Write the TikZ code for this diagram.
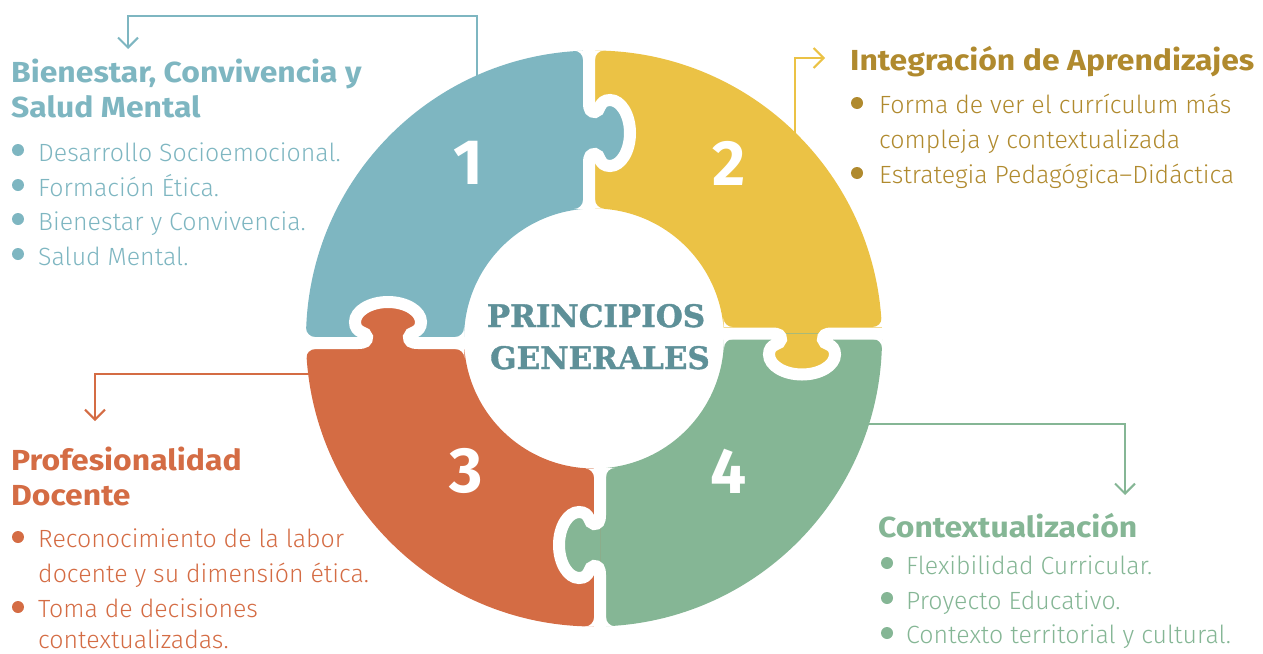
\documentclass[tikz,border=0pt]{standalone}
\usepackage{fontspec}
\setmainfont{Fira Sans}
\newfontfamily\lightfont{Fira Sans Light}
\newfontfamily\ttlfont{Fira Sans}[FakeStretch=1.1]
\newfontfamily\slabfont{DejaVu Serif}[BoldFeatures={FakeBold=1.2}]
\usetikzlibrary{arrows.meta}
\definecolor{blueC}{HTML}{7EB6C1}
\definecolor{yellowC}{HTML}{EBC245}
\definecolor{orangeC}{HTML}{D46C44}
\definecolor{greenC}{HTML}{85B695}
\definecolor{ytext}{HTML}{B08A2E}
\definecolor{ctext}{HTML}{5E9098}
\tikzset{
  gapline/.style={draw=white, line width=12pt},
  conn/.style={draw=#1, line width=2pt, -{Straight Barb[length=10pt,width=20pt]}},
  ttl/.style={anchor=base west, inner sep=0pt, text=#1, font=\fontsize{29}{35}\selectfont\ttlfont\bfseries},
  itm/.style={anchor=base west, inner sep=0pt, text=#1, font=\fontsize{24.9}{35}\selectfont\lightfont},
  bul/.style={circle, fill=#1, minimum size=12pt, inner sep=0pt},
  num/.style={text=white, font=\fontsize{64}{64}\selectfont\bfseries, inner sep=0pt},
  ctrtxt/.style={anchor=base, inner sep=0pt, text=ctext, font=\fontsize{31}{35}\selectfont\slabfont\bfseries},
}
\newcommand{\jointtab}[2]{%
  \begin{scope}[#1]
    \fill[#2] (0,-30) .. controls (0,-23) and (2,-21) .. (6,-21)
      .. controls (12,-21) and (9,-33) .. (21,-33)
      .. controls (32,-33) and (41,-18) .. (41,0)
      .. controls (41,18) and (32,33) .. (21,33)
      .. controls (9,33) and (12,21) .. (6,21)
      .. controls (2,21) and (0,23) .. (0,30) -- cycle;
  \end{scope}}
\newcommand{\jointline}[1]{%
  \begin{scope}[#1]
    \draw[gapline] (0,-100) -- (0,-30) .. controls (0,-23) and (2,-21) .. (6,-21)
      .. controls (12,-21) and (9,-33) .. (21,-33)
      .. controls (32,-33) and (41,-18) .. (41,0)
      .. controls (41,18) and (32,33) .. (21,33)
      .. controls (9,33) and (12,21) .. (6,21)
      .. controls (2,21) and (0,23) .. (0,30) -- (0,100);
  \end{scope}}
\newcommand{\corner}[4]{%
  \fill[white] (#1,#2) -- ({#1+#3*9},#2) .. controls ({#1+#3*4},#2) and (#1,{#2+#4*4}) .. (#1,{#2+#4*9}) -- cycle;}
\begin{document}
\begin{tikzpicture}[x=1pt,y=-1pt]
\useasboundingbox (0,0) rectangle (1263,653);
% connector coordinates
\coordinate (c1s) at (477,110);
\coordinate (c1k) at (477,16);
\coordinate (c1e) at (128,49);
\coordinate (c2s) at (795,150);
\coordinate (c2k) at (795,58);
\coordinate (c2e) at (825,58);
\coordinate (c3s) at (330,374);
\coordinate (c3k) at (95,374);
\coordinate (c3e) at (95,421);
\coordinate (c4s) at (850,424);
\coordinate (c4k) at (1125,424);
\coordinate (c4e) at (1125,495);
\draw[conn=blueC] (c1s) -- (c1k) -| (c1e);
\draw[conn=yellowC] (c2s) -- (c2k) -- (c2e);
\draw[conn=orangeC] (c3s) -- (c3k) -- (c3e);
\draw[conn=greenC] (c4s) -- (c4k) -- (c4e);
% ring quadrants
\begin{scope}
  \clip (0,0) rectangle (589,343);
  \fill[blueC, even odd rule] (594,338.5) circle[radius=288] circle[radius=130];
\end{scope}
\begin{scope}
  \clip (589,0) rectangle (1263,333.5);
  \fill[yellowC, even odd rule] (594,338.5) circle[radius=288] circle[radius=130];
\end{scope}
\begin{scope}
  \clip (600,333.5) rectangle (1263,653);
  \fill[greenC, even odd rule] (594,338.5) circle[radius=288] circle[radius=130];
\end{scope}
\begin{scope}
  \clip (0,343) rectangle (600,653);
  \fill[orangeC, even odd rule] (594,338.5) circle[radius=288] circle[radius=130];
\end{scope}
% tabs
\jointtab{shift={(589,133)},x={(1pt,0pt)},y={(0pt,-1pt)}}{blueC}
\jointtab{shift={(802,333.5)},x={(0pt,-1pt)},y={(1pt,0pt)}}{yellowC}
\jointtab{shift={(388,343)},x={(0pt,1pt)},y={(1pt,0pt)}}{orangeC}
\jointtab{shift={(600,545)},x={(-1pt,0pt)},y={(0pt,-1pt)}}{greenC}
% gaps
\jointline{shift={(589,133)},x={(1pt,0pt)},y={(0pt,-1pt)}}
\jointline{shift={(802,333.5)},x={(0pt,-1pt)},y={(1pt,0pt)}}
\jointline{shift={(388,343)},x={(0pt,1pt)},y={(1pt,0pt)}}
\jointline{shift={(600,545)},x={(-1pt,0pt)},y={(0pt,-1pt)}}
% rounded corners
\corner{583}{50.7}{-1}{1}
\corner{595}{50.5}{1}{1}
\corner{583}{209}{-1}{-1}
\corner{595}{208.5}{1}{-1}
\corner{594}{626.5}{-1}{-1}
\corner{606}{626.25}{1}{-1}
\corner{594}{468.5}{-1}{1}
\corner{606}{467.9}{1}{1}
\corner{306}{337}{1}{-1}
\corner{306.2}{349}{1}{1}
\corner{464}{337}{-1}{-1}
\corner{464.4}{349}{-1}{1}
\corner{881.8}{327}{-1}{-1}
\corner{882}{339}{-1}{1}
\corner{723.5}{327}{1}{-1}
\corner{724}{339}{1}{1}
% numbers
\node[num] (n1) at (468,163) {1};
\node[num] (n2) at (729,163) {2};
\node[num] (n3) at (466,471) {3};
\node[num] (n4) at (729,471) {4};
% center text
\node[ctrtxt] (pr) at (596,327) {PRINCIPIOS};
\node[ctrtxt] (ge) at (600,369) {GENERALES};
% block 1
\node[ttl=blueC] (t1a) at (11,82) {Bienestar, Convivencia y};
\node[ttl=blueC] (t1b) at (11,117) {Salud Mental};
\node[bul=blueC] (b1a) at (18,150) {};
\node[bul=blueC] (b1b) at (18,185) {};
\node[bul=blueC] (b1c) at (18,219) {};
\node[bul=blueC] (b1d) at (18,254) {};
\node[itm=blueC] (i1a) at (38,161) {Desarrollo Socioemocional.};
\node[itm=blueC] (i1b) at (38,196) {Formación Ética.};
\node[itm=blueC] (i1c) at (38,230) {Bienestar y Convivencia.};
\node[itm=blueC] (i1d) at (38,265) {Salud Mental.};
% block 2
\node[ttl=ytext] (t2a) at (850,70) {Integración de Aprendizajes};
\node[bul=ytext] (b2a) at (857,103) {};
\node[bul=ytext] (b2b) at (857,173) {};
\node[itm=ytext] (i2a) at (879,113) {Forma de ver el currículum más};
\node[itm=ytext] (i2b) at (879,148) {compleja y contextualizada};
\node[itm=ytext] (i2c) at (879,183) {Estrategia Pedagógica–Didáctica};
% block 3
\node[ttl=orangeC] (t3a) at (11,470) {Profesionalidad};
\node[ttl=orangeC] (t3b) at (11,505) {Docente};
\node[bul=orangeC] (b3a) at (18,537) {};
\node[bul=orangeC] (b3b) at (18,607) {};
\node[itm=orangeC] (i3a) at (38,547) {Reconocimiento de la labor};
\node[itm=orangeC] (i3b) at (38,582) {docente y su dimensión ética.};
\node[itm=orangeC] (i3c) at (38,617) {Toma de decisiones};
\node[itm=orangeC] (i3d) at (38,648) {contextualizadas.};
% block 4
\node[ttl=greenC] (t4a) at (878,537) {Contextualización};
\node[bul=greenC] (b4a) at (887,563) {};
\node[bul=greenC] (b4b) at (887,598) {};
\node[bul=greenC] (b4c) at (887,633) {};
\node[itm=greenC] (i4a) at (906,574) {Flexibilidad Curricular.};
\node[itm=greenC] (i4b) at (906,609) {Proyecto Educativo.};
\node[itm=greenC] (i4c) at (906,643) {Contexto territorial y cultural.};
\end{tikzpicture}
\end{document}
